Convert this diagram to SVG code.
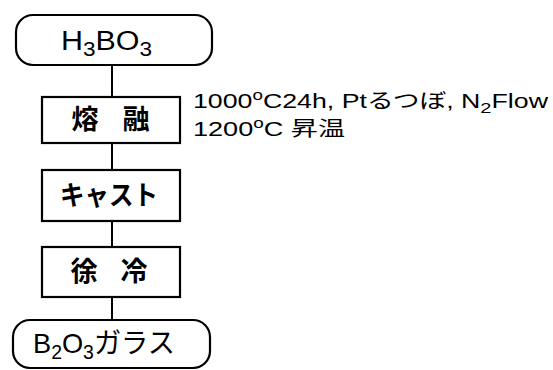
<svg xmlns="http://www.w3.org/2000/svg" width="553" height="370" viewBox="0 0 553 370">
<style>
.box{fill:#fff;stroke:#000;stroke-width:2.2}
.ln{stroke:#000;stroke-width:2;fill:none}
.t{font-family:"Liberation Sans","Noto Sans CJK JP",sans-serif;fill:#000}
.j{font-family:"Noto Sans CJK JP",sans-serif;font-weight:bold;fill:#000;text-anchor:middle}
</style>
<rect width="553" height="370" fill="#fff"/>
<g id="connectors">
<line class="ln" x1="112" y1="65" x2="112" y2="97"/>
<line class="ln" x1="112" y1="143" x2="112" y2="170"/>
<line class="ln" x1="112" y1="221" x2="112" y2="247"/>
<line class="ln" x1="112" y1="297" x2="112" y2="320"/>
</g>
<g id="n-h3bo3">
<rect class="box" x="16" y="15" width="196" height="50" rx="17"/>
<text class="t" x="61" y="50" font-size="27" textLength="91" lengthAdjust="spacingAndGlyphs">H<tspan font-size="20" dy="6">3</tspan><tspan dy="-6">BO</tspan><tspan font-size="20" dy="6">3</tspan></text>
</g>
<g id="n-melt">
<rect class="box" x="42" y="97" width="138" height="46"/>
<text class="j" x="85" y="129" font-size="27">熔</text>
<text class="j" x="136" y="129" font-size="27">融</text>
</g>
<g id="n-cast">
<rect class="box" x="42" y="170" width="138" height="51"/>
<text class="j" x="109" y="205" font-size="27" textLength="98" lengthAdjust="spacingAndGlyphs">キャスト</text>
</g>
<g id="n-anneal">
<rect class="box" x="42" y="247" width="138" height="50"/>
<text class="j" x="84" y="281" font-size="27">徐</text>
<text class="j" x="134" y="281" font-size="27">冷</text>
</g>
<g id="n-glass">
<rect class="box" x="13" y="320" width="197" height="48" rx="17"/>
<text class="t" x="33" y="353" font-size="28" textLength="142" lengthAdjust="spacingAndGlyphs">B<tspan font-size="20" dy="6">2</tspan><tspan dy="-6">O</tspan><tspan font-size="20" dy="6">3</tspan><tspan dy="-6">ガラス</tspan></text>
</g>
<g id="notes">
<text class="t" x="193" y="108" font-size="20" textLength="355" lengthAdjust="spacingAndGlyphs">1000<tspan font-size="14" dy="-8">o</tspan><tspan dy="8">C24h, Ptるつぼ, N</tspan><tspan font-size="15" dy="5">2</tspan><tspan dy="-5">Flow</tspan></text>
<text class="t" x="193" y="136" font-size="20" textLength="152" lengthAdjust="spacingAndGlyphs">1200<tspan font-size="14" dy="-8">o</tspan><tspan dy="8">C 昇温</tspan></text>
</g>
</svg>
